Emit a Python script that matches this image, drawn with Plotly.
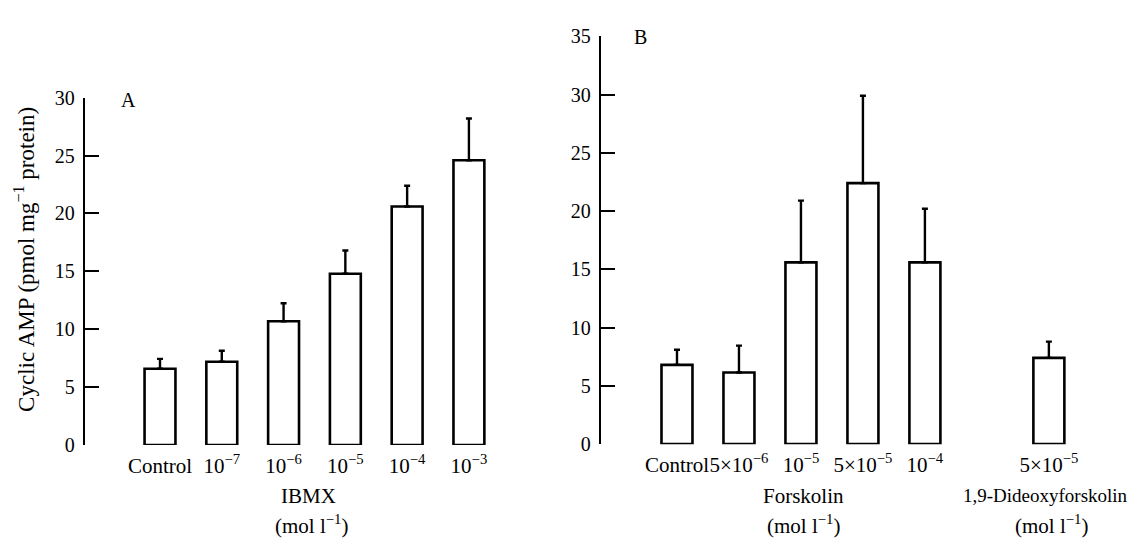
import plotly.graph_objects as go

# ---- Panel A: IBMX ----
ibmx_cats = ["Control", "1e-7", "1e-6", "1e-5", "1e-4", "1e-3"]
ibmx_ticks = ["Control", "10<sup>−7</sup>", "10<sup>−6</sup>", "10<sup>−5</sup>",
              "10<sup>−4</sup>", "10<sup>−3</sup>"]
ibmx_values = [6.6, 7.2, 10.7, 14.8, 20.6, 24.6]
ibmx_sem = [0.85, 0.95, 1.55, 2.0, 1.8, 3.6]

# ---- Panel B: Forskolin / 1,9-Dideoxyforskolin ----
forsk_cats_all = ["Control", "F5e-6", "F1e-5", "F5e-5", "F1e-4", "gap", "D5e-5"]
forsk_ticks_all = ["Control", "5×10<sup>−6</sup>", "10<sup>−5</sup>", "5×10<sup>−5</sup>",
                   "10<sup>−4</sup>", "", "5×10<sup>−5</sup>"]
forsk_cats = ["Control", "F5e-6", "F1e-5", "F5e-5", "F1e-4", "D5e-5"]
forsk_values = [6.8, 6.15, 15.6, 22.4, 15.6, 7.4]
forsk_sem = [1.3, 2.3, 5.3, 7.5, 4.6, 1.4]

W, H = 1145, 546
FONT = "Liberation Serif"

def px(x):
    return x / W

def py(y):
    return (H - y) / H

fig = go.Figure()

bar_style = dict(marker=dict(color="white", line=dict(color="black", width=2.6)),
                 width=0.5, showlegend=False, hoverinfo="skip")

fig.add_trace(go.Bar(
    x=ibmx_cats, y=ibmx_values,
    error_y=dict(type="data", symmetric=False, array=ibmx_sem,
                 arrayminus=[0] * len(ibmx_sem), color="black", thickness=2.4, width=3),
    xaxis="x", yaxis="y", **bar_style))

fig.add_trace(go.Bar(
    x=forsk_cats, y=forsk_values,
    error_y=dict(type="data", symmetric=False, array=forsk_sem,
                 arrayminus=[0] * len(forsk_sem), color="black", thickness=2.4, width=3),
    xaxis="x2", yaxis="y2", **bar_style))

xtickfont = dict(family=FONT, size=21, color="black")
ytickfont = dict(family=FONT, size=20, color="black")

yaxis_common = dict(showgrid=False, zeroline=False, showline=True, linecolor="black",
                    linewidth=2.4, ticks="inside", ticklen=14, tickwidth=2.4,
                    tickcolor="black", tickfont=ytickfont, ticklabelstandoff=4)

xaxis_common = dict(type="category", showgrid=False, zeroline=False, showline=False,
                    ticks="", tickfont=xtickfont, tickangle=0, ticklabelstandoff=6)

fig.update_layout(
    width=W, height=H,
    margin=dict(l=0, r=0, t=0, b=0),
    paper_bgcolor="white", plot_bgcolor="white",
    bargap=0.5,
    xaxis=dict(domain=[px(77), px(540)], range=[-1.214, 6.28],
               categoryorder="array", categoryarray=ibmx_cats,
               tickmode="array", tickvals=ibmx_cats, ticktext=ibmx_ticks,
               anchor="y", **xaxis_common),
    yaxis=dict(domain=[py(444), py(82)], range=[0, 30], tickvals=[0, 5, 10, 15, 20, 25, 30],
               anchor="x", **yaxis_common),
    xaxis2=dict(domain=[px(593), 1.0], range=[-1.226, 7.68],
                categoryorder="array", categoryarray=forsk_cats_all,
                tickmode="array", tickvals=forsk_cats_all, ticktext=forsk_ticks_all,
                anchor="y2", **xaxis_common),
    yaxis2=dict(domain=[py(443), py(18)], range=[0, 35],
                tickvals=[0, 5, 10, 15, 20, 25, 30, 35], anchor="x2", **yaxis_common),
)

def add_text(text, x, y, xanchor="center", angle=0, size=21):
    fig.add_annotation(text=text, x=px(x), y=py(y), xref="paper", yref="paper",
                       showarrow=False, font=dict(family=FONT, size=size, color="black"),
                       xanchor=xanchor, yanchor="middle", textangle=angle)

add_text("Cyclic AMP (pmol mg<sup>−1</sup> protein)", 17, 251, angle=-90, size=23)
add_text("A", 120, 84, size=20)
add_text("B", 632, 19, size=20)
add_text("IBMX", 300, 497)
add_text("(mol l<sup>−1</sup>)", 303, 527)
add_text("Forskolin", 795, 497)
add_text("(mol l<sup>−1</sup>)", 795, 527)
add_text("1,9-Dideoxyforskolin", 1122, 497, xanchor="right", size=19)
add_text("(mol l<sup>−1</sup>)", 1043, 527)

fig.write_html("out.html")
